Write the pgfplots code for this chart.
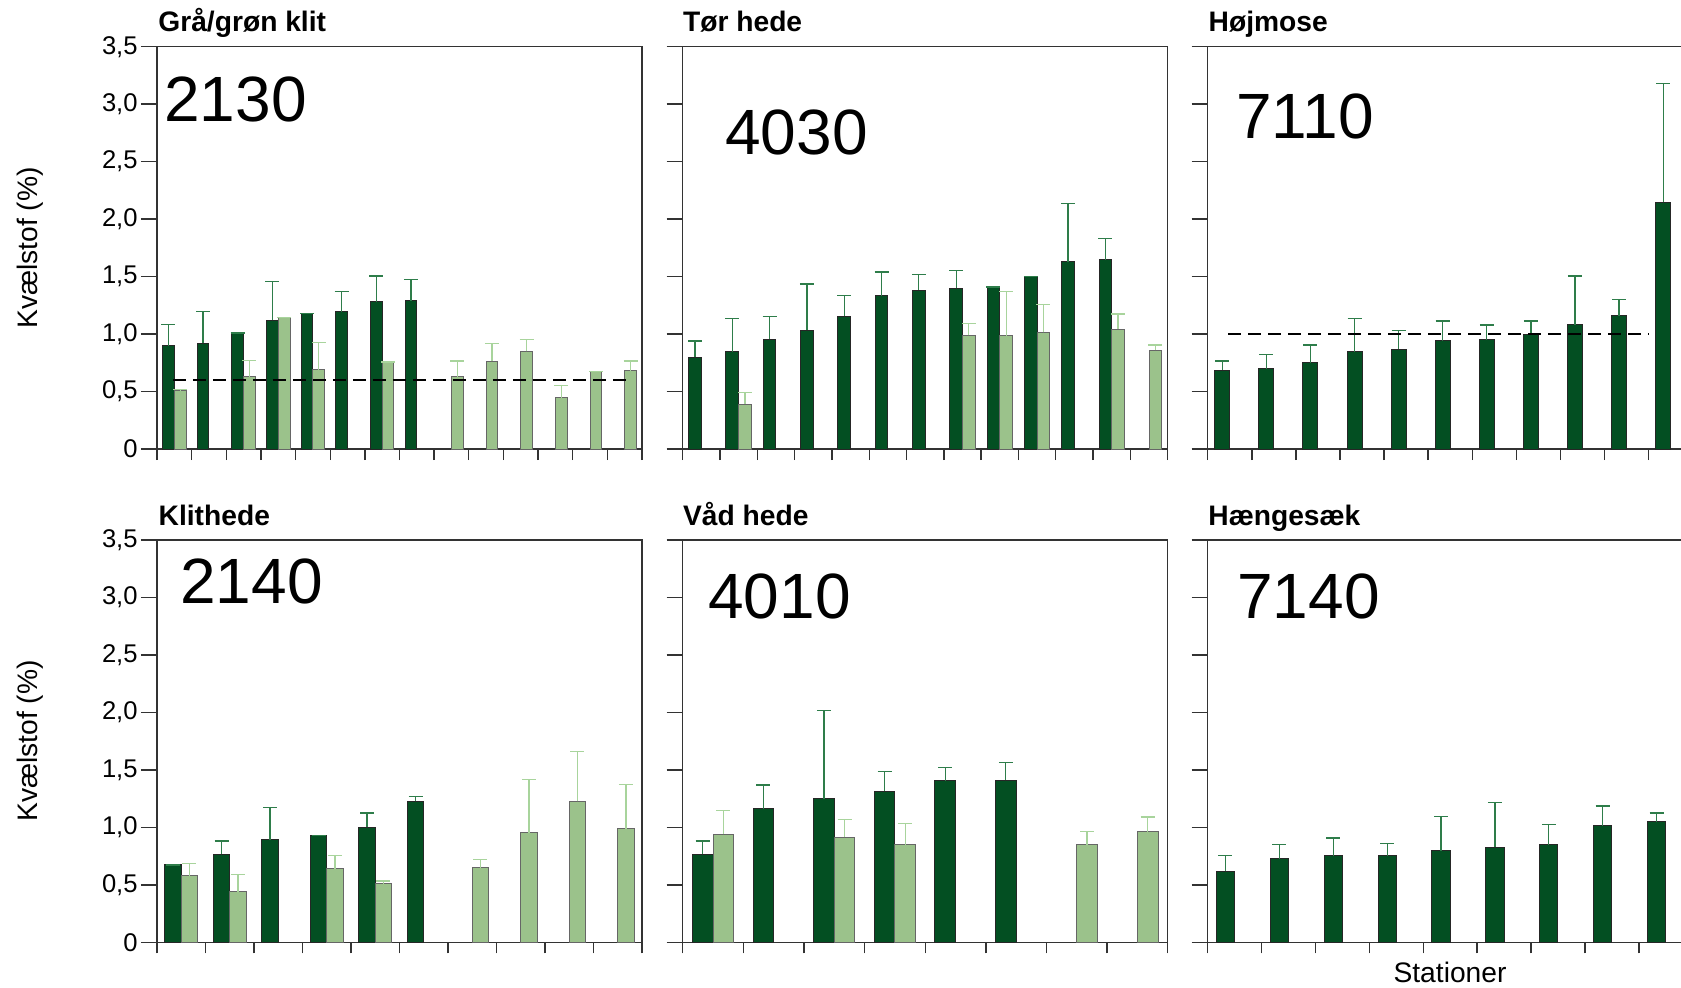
\documentclass[border=0pt]{standalone}
\usepackage{fontspec}
\setmainfont{Liberation Sans}
\usepackage{pgfplots}
\pgfplotsset{compat=1.18}
\definecolor{dk}{HTML}{034F22}
\definecolor{lt}{HTML}{9BC28B}
\definecolor{dkerr}{HTML}{2E7D4A}
\definecolor{lterr}{HTML}{A8D49C}
\newcommand{\tfnt}{\fontsize{12.8}{14}\selectfont}
\newcommand{\lfnt}{\fontsize{14.1}{16}\selectfont}
\newcommand{\bfnt}{\fontsize{14.1}{16}\selectfont\bfseries}
\newcommand{\bignum}{\fontsize{32}{36}\selectfont}
\pgfplotsset{
  panel/.style={scale only axis, width=242.5pt, height=201.15pt, anchor=south west,
    ymin=0, ymax=3.5, ytick={0,0.5,1,1.5,2,2.5,3,3.5}, yticklabels={},
    xticklabels={}, tick align=outside, xtick pos=bottom, ytick pos=left,
    major tick length=8pt,
    xtick style={/pgfplots/major tick length=5.5pt},
    axis line style={black!80, line width=0.7pt},
    tick style={black!80, line width=0.7pt},
    tick label style={font=\tfnt},
    yticklabel style={inner sep=1.5pt}},
  firstcol/.style={yticklabels={0,{0,5},{1,0},{1,5},{2,0},{2,5},{3,0},{3,5}}},
  dark/.style={ybar, bar width=0.34, bar shift=0, fill=dk, draw=black!85, line width=0.5pt,
    error bars/.cd, y dir=plus, y explicit,
    error bar style={dkerr, line width=0.6pt},
    error mark options={rotate=90, dkerr, mark size=3.5pt, line width=0.6pt}},
  light/.style={ybar, bar width=0.34, bar shift=0, fill=lt, draw=black!60, line width=0.5pt,
    error bars/.cd, y dir=plus, y explicit,
    error bar style={lterr, line width=0.6pt},
    error mark options={rotate=90, lterr, mark size=3.5pt, line width=0.6pt}},
  ref/.style={black, line width=0.6pt, dash pattern=on 6.5pt off 3.5pt, mark=none, forget plot}
}
\begin{document}
\begin{tikzpicture}
\useasboundingbox (0,0) rectangle (840.5pt,493.5pt);
\clip (0,0) rectangle (840.5pt,493.5pt);

% ---------- Panel 1: Graa/groen klit (2130)
\begin{axis}[panel, firstcol, at={(78.5pt,269pt)}, xmin=0, xmax=14, xtick={0,1,...,14}]
\addplot[dark] coordinates {
 (0.33,0.90) +- (0,0.18)
 (1.33,0.92) +- (0,0.275)
 (2.33,1.01) +- (0,0)
 (3.33,1.12) +- (0,0.34)
 (4.33,1.18) +- (0,0)
 (5.33,1.195) +- (0,0.175)
 (6.33,1.28) +- (0,0.225)
 (7.33,1.29) +- (0,0.185)
};
\addplot[light] coordinates {
 (0.67,0.505) +- (0,0.01)
 (2.67,0.63) +- (0,0.14)
 (3.67,1.145) +- (0,0)
 (4.67,0.69) +- (0,0.24)
 (6.67,0.757) +- (0,0)
 (8.67,0.63) +- (0,0.135)
 (9.67,0.765) +- (0,0.155)
 (10.67,0.85) +- (0,0.10)
 (11.67,0.445) +- (0,0.11)
 (12.67,0.673) +- (0,0)
 (13.67,0.68) +- (0,0.085)
};
\addplot[ref] coordinates {(0.46,0.6) (13.7,0.6)};
\end{axis}

% ---------- Panel 2: Toer hede (4030)
\begin{axis}[panel, at={(341.35pt,269pt)}, xmin=0, xmax=13, xtick={0,1,...,13}]
\addplot[dark] coordinates {
 (0.33,0.80) +- (0,0.14)
 (1.33,0.847) +- (0,0.29)
 (2.33,0.954) +- (0,0.20)
 (3.33,1.035) +- (0,0.40)
 (4.33,1.157) +- (0,0.177)
 (5.33,1.334) +- (0,0.206)
 (6.33,1.383) +- (0,0.136)
 (7.33,1.40) +- (0,0.154)
 (8.33,1.409) +- (0,0)
 (9.33,1.50) +- (0,0)
 (10.33,1.63) +- (0,0.507)
 (11.33,1.647) +- (0,0.185)
};
\addplot[light] coordinates {
 (1.67,0.391) +- (0,0.10)
 (7.67,0.989) +- (0,0.104)
 (8.67,0.986) +- (0,0.382)
 (9.67,1.015) +- (0,0.24)
 (11.67,1.044) +- (0,0.13)
 (12.67,0.861) +- (0,0.044)
};
\end{axis}

% ---------- Panel 3: Hoejmose (7110)
\begin{axis}[panel, at={(603.85pt,269pt)}, xmin=0, xmax=11, xtick={0,1,...,11}]
\addplot[dark] coordinates {
 (0.33,0.687) +- (0,0.078)
 (1.33,0.699) +- (0,0.124)
 (2.33,0.751) +- (0,0.154)
 (3.33,0.847) +- (0,0.29)
 (4.33,0.87) +- (0,0.162)
 (5.33,0.942) +- (0,0.171)
 (6.33,0.951) +- (0,0.128)
 (7.33,0.997) +- (0,0.116)
 (8.33,1.079) +- (0,0.426)
 (9.33,1.16) +- (0,0.139)
 (10.33,2.146) +- (0,1.032)
};
\addplot[ref] coordinates {(0.47,1.0) (10.0,1.0)};
\end{axis}

% ---------- Panel 4: Klithede (2140)
\begin{axis}[panel, firstcol, at={(78.5pt,22.35pt)}, xmin=0, xmax=10, xtick={0,1,...,10}]
\addplot[dark] coordinates {
 (0.33,0.673) +- (0,0)
 (1.33,0.768) +- (0,0.113)
 (2.33,0.893) +- (0,0.278)
 (3.33,0.928) +- (0,0)
 (4.33,1.0) +- (0,0.125)
 (5.33,1.226) +- (0,0.041)
};
\addplot[light] coordinates {
 (0.67,0.58) +- (0,0.104)
 (1.67,0.441) +- (0,0.15)
 (3.67,0.641) +- (0,0.116)
 (4.67,0.51) +- (0,0.023)
 (6.67,0.649) +- (0,0.07)
 (7.67,0.951) +- (0,0.464)
 (8.67,1.226) +- (0,0.432)
 (9.67,0.989) +- (0,0.385)
};
\end{axis}

% ---------- Panel 5: Vaad hede (4010)
\begin{axis}[panel, at={(341.35pt,22.35pt)}, xmin=0, xmax=8, xtick={0,1,...,8}]
\addplot[dark] coordinates {
 (0.33,0.768) +- (0,0.113)
 (1.33,1.163) +- (0,0.206)
 (2.33,1.247) +- (0,0.771)
 (3.33,1.316) +- (0,0.169)
 (4.33,1.406) +- (0,0.113)
 (5.33,1.412) +- (0,0.154)
};
\addplot[light] coordinates {
 (0.67,0.942) +- (0,0.206)
 (2.67,0.916) +- (0,0.151)
 (3.67,0.85) +- (0,0.182)
 (6.67,0.847) +- (0,0.116)
 (7.67,0.963) +- (0,0.127)
};
\end{axis}

% ---------- Panel 6: Haengesaek (7140)
\begin{axis}[panel, at={(603.85pt,22.35pt)}, xmin=0, xmax=9, xtick={0,1,...,9}]
\addplot[dark] coordinates {
 (0.33,0.62) +- (0,0.134)
 (1.33,0.725) +- (0,0.125)
 (2.33,0.754) +- (0,0.153)
 (3.33,0.754) +- (0,0.107)
 (4.33,0.797) +- (0,0.296)
 (5.33,0.829) +- (0,0.389)
 (6.33,0.85) +- (0,0.173)
 (7.33,1.015) +- (0,0.171)
 (8.33,1.047) +- (0,0.078)
};
\end{axis}

% ---------- Text
\node[anchor=base west, inner sep=0] at (79pt,477.5pt) {\bfnt Grå/grøn klit};
\node[anchor=base west, inner sep=0] at (341.35pt,477.5pt) {\bfnt Tør hede};
\node[anchor=base west, inner sep=0] at (604.15pt,477.5pt) {\bfnt Højmose};
\node[anchor=base west, inner sep=0] at (79.15pt,231pt) {\bfnt Klithede};
\node[anchor=base west, inner sep=0] at (341.35pt,231pt) {\bfnt Våd hede};
\node[anchor=base west, inner sep=0] at (604pt,231pt) {\bfnt Hængesæk};

\node[anchor=base west, inner sep=0] at (82pt,432.65pt) {\bignum 2130};
\node[anchor=base west, inner sep=0] at (362.5pt,416pt) {\bignum 4030};
\node[anchor=base west, inner sep=0] at (618pt,424.35pt) {\bignum 7110};
\node[anchor=base west, inner sep=0] at (90pt,191.85pt) {\bignum 2140};
\node[anchor=base west, inner sep=0] at (354pt,184.35pt) {\bignum 4010};
\node[anchor=base west, inner sep=0] at (618.5pt,184.35pt) {\bignum 7140};

\node[rotate=90, inner sep=0] at (15pt,369.5pt) {\lfnt Kvælstof (\%)};
\node[rotate=90, inner sep=0] at (15pt,123pt) {\lfnt Kvælstof (\%)};
\node[anchor=base, inner sep=0] at (725pt,2.15pt) {\lfnt Stationer};
\end{tikzpicture}
\end{document}
